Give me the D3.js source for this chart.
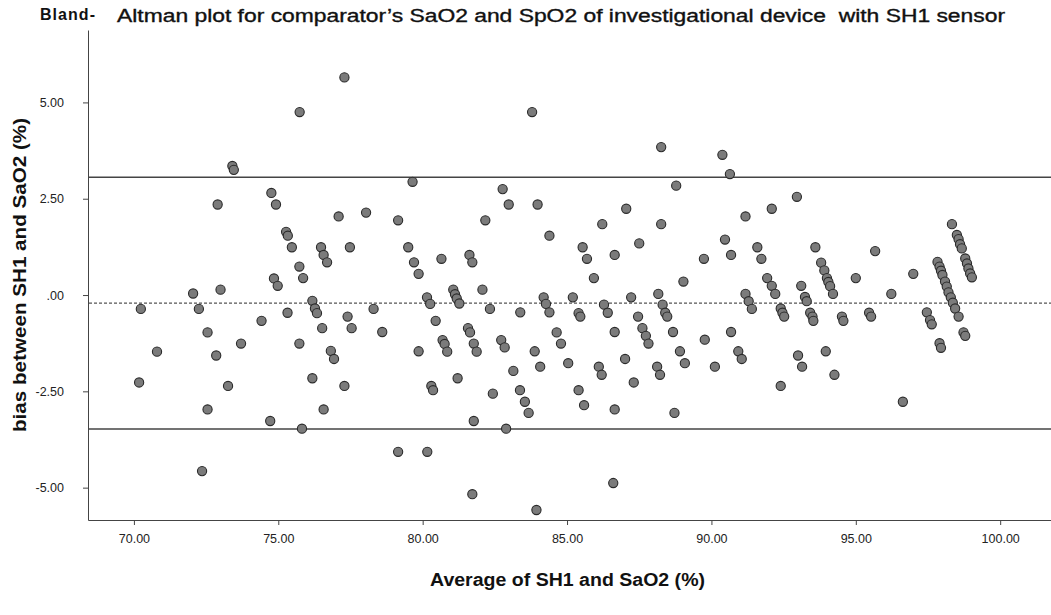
<!DOCTYPE html>
<html>
<head>
<meta charset="utf-8">
<script src="https://cdn.jsdelivr.net/npm/d3@7"></script>
<style>
  html, body { margin: 0; padding: 0; background: #fff; }
  svg { display: block; font-family: "Liberation Sans", Arial, sans-serif; }
</style>
</head>
<body>
<svg id="chart" width="1051" height="615"></svg>
<script>
// Average of SH1 and SaO2 (%) for each paired sample
const avgValues = [
  70.18, 70.24, 70.80, 72.05, 72.25, 72.36, 72.55, 72.55, 72.85, 72.90,
  73.00, 73.26, 73.41, 73.46, 73.71, 74.42, 74.72, 74.76, 74.85, 74.92,
  74.98, 75.27, 75.33, 75.32, 75.47, 75.74, 75.73, 75.73, 75.82, 75.86,
  76.18, 76.27, 76.34, 76.18, 76.48, 76.57, 76.69, 76.52, 76.57, 76.82,
  76.93, 77.09, 77.29, 77.29, 77.40, 77.48, 77.54, 78.04, 78.30, 78.60,
  79.15, 79.15, 79.50, 79.65, 79.70, 79.86, 79.86, 80.15, 80.26, 80.16,
  80.30, 80.36, 80.45, 80.65, 80.69, 80.76, 80.85, 81.06, 81.12, 81.18,
  81.27, 81.21, 81.57, 81.64, 81.62, 81.72, 81.72, 81.77, 81.87, 81.77,
  82.07, 82.17, 82.33, 82.43, 82.72, 82.84, 82.77, 82.89, 82.98, 83.14,
  83.38, 83.37, 83.54, 83.67, 83.79, 83.88, 83.94, 83.98, 84.07, 84.19,
  84.27, 84.39, 84.39, 84.64, 84.79, 85.04, 85.20, 85.40, 85.46, 85.40,
  85.54, 85.59, 85.69, 85.93, 86.10, 86.20, 86.22, 86.28, 86.41, 86.60,
  86.65, 86.65, 86.65, 87.01, 87.05, 87.22, 87.31, 87.46, 87.50, 87.61,
  87.73, 87.82, 88.12, 88.22, 88.16, 88.26, 88.26, 88.31, 88.40, 88.47,
  88.67, 88.72, 88.78, 88.91, 89.03, 89.08, 89.74, 89.77, 90.12, 90.38,
  90.47, 90.64, 90.68, 90.68, 90.93, 91.05, 91.18, 91.18, 91.29, 91.40,
  91.59, 91.73, 91.93, 92.09, 92.21, 92.09, 92.40, 92.46, 92.52, 92.40,
  92.96, 93.00, 93.11, 93.14, 93.24, 93.30, 93.42, 93.50, 93.53, 93.60,
  93.80, 93.91, 94.00, 94.05, 94.11, 94.21, 93.96, 94.26, 94.52, 94.57,
  95.00, 95.46, 95.53, 95.67, 96.23, 96.63, 96.99, 97.46, 97.57, 97.63,
  97.83, 97.90, 97.95, 98.00, 98.09, 98.15, 98.21, 98.29, 98.36, 98.44,
  98.56, 97.90, 97.95, 98.33, 98.50, 98.56, 98.61, 98.67, 98.79, 98.85,
  98.90, 98.96, 99.02, 98.73, 98.79
];

// Bias between SH1 and SaO2 (%) for the same samples
const biasValues = [
  -2.27, -0.36, -1.47,  0.04, -0.36, -4.57, -0.97, -2.97, -1.57,  2.35,
   0.14, -2.36,  3.35,  3.25, -1.26, -0.67, -3.27,  2.65,  0.43,  2.35,
   0.24,  1.64,  1.54, -0.46,  1.24,  4.75,  0.74, -1.26, -3.47,  0.44,
  -0.15, -0.35, -0.47, -2.16,  1.24,  1.04,  0.85, -0.86, -2.97, -1.45,
  -1.66,  2.04,  5.65, -2.36, -0.56,  1.24, -0.86,  2.14, -0.36, -0.96,
   1.94, -4.07,  1.24,  2.94,  0.85,  0.55, -1.46, -0.06, -0.23, -4.07,
  -2.36, -2.47, -0.67,  0.94, -1.17, -1.27, -1.47,  0.14,  0.02, -0.09,
  -0.22, -2.16, -0.86, -0.97,  1.04,  0.85, -5.17, -1.26, -1.47, -3.27,
   0.14,  1.94, -0.36, -2.56, -1.17, -1.36,  2.75, -3.47,  2.35, -1.97,
  -0.45, -2.47, -2.77, -3.06,  4.75, -1.46, -5.58,  2.35, -1.86, -0.06,
  -0.23, -0.45,  1.54, -0.97, -1.26, -1.77, -0.06, -0.47, -0.56, -2.47,
   1.24, -2.86,  0.94,  0.44, -1.86, -2.07,  1.84, -0.25, -0.46, -4.88,
   1.04, -0.96, -2.97, -1.66,  2.24, -0.06, -2.27, -0.56,  1.34, -0.86,
  -1.06, -1.26, -1.86, -2.07,  0.03,  3.84,  1.84, -0.25, -0.46, -0.56,
  -0.96, -3.06,  2.84, -1.46,  0.35, -1.77,  0.94, -1.16, -1.86,  3.64,
   1.44,  3.14,  1.04, -0.96, -1.46, -1.66,  2.04,  0.03, -0.16, -0.36,
   1.24,  0.94,  0.44,  0.24,  0.03,  2.24, -0.35, -0.46, -0.56, -2.36,
   2.55, -1.57,  0.24, -1.86, -0.05, -0.16, -0.46, -0.56, -0.67,  1.24,
   0.84,  0.64,  0.44,  0.34,  0.23,  0.03, -1.46, -2.07, -0.56, -0.67,
   0.44, -0.46, -0.56,  1.14,  0.03, -2.77,  0.55, -0.45, -0.65, -0.76,
   0.86,  0.74,  0.63,  0.52,  0.35,  0.22,  0.07, -0.06, -0.20, -0.35,
  -0.56, -1.25, -1.37,  1.84,  1.56,  1.45,  1.32,  1.21,  0.95,  0.82,
   0.69,  0.56,  0.46, -0.97, -1.06
];

// Mean bias and 95% limits of agreement
const meanBias = -0.21;
const limitsOfAgreement = [3.06, -3.48];

// Axis ticks and their printed labels
const xTicks = [70, 75, 80, 85, 90, 95, 100];
const xTickLabels = ["70.00", "75.00", "80.00", "85.00", "90.00", "95.00", "100.00"];
const yTicks = [-5, -2.5, 0, 2.5, 5];
const yTickLabels = ["-5.00", "-2.50", ".00", "2.50", "5.00"];

const svg = d3.select("#chart");

// Plot frame
const frame = { left: 88, right: 1051, top: 30, bottom: 520 };

const x = d3.scaleLinear().domain([68.41, 101.76]).range([frame.left, frame.right]);
const y = d3.scaleLinear().domain([-5.84, 6.88]).range([frame.bottom, frame.top]);

const textColor = "#222";

// Axes
const xAxis = d3.axisBottom(x)
  .tickValues(xTicks)
  .tickFormat((d, i) => xTickLabels[i])
  .tickSize(5)
  .tickSizeOuter(0);
const yAxis = d3.axisLeft(y)
  .tickValues(yTicks)
  .tickFormat((d, i) => yTickLabels[i])
  .tickSize(5)
  .tickSizeOuter(0);

const gx = svg.append("g")
  .attr("transform", `translate(0,${frame.bottom})`)
  .call(xAxis);
gx.select(".domain").attr("stroke", "#444").attr("stroke-width", 1);
gx.selectAll(".tick line").attr("stroke", "#444");
gx.selectAll(".tick text")
  .attr("font-size", 12.5)
  .attr("fill", textColor)
  .attr("dy", "1.2em");

const gy = svg.append("g")
  .attr("transform", `translate(${frame.left},0)`)
  .call(yAxis);
gy.select(".domain").attr("stroke", "#444").attr("stroke-width", 1);
gy.selectAll(".tick line").attr("stroke", "#444");
gy.selectAll(".tick text")
  .attr("font-size", 12.5)
  .attr("fill", textColor)
  .attr("dx", "-16");

// Reference lines
const refG = svg.append("g");
refG.selectAll("line.loa")
  .data(limitsOfAgreement)
  .join("line")
  .attr("class", "loa")
  .attr("x1", frame.left + 1).attr("x2", frame.right)
  .attr("y1", d => y(d)).attr("y2", d => y(d))
  .attr("stroke", "#444")
  .attr("stroke-width", 1.5);

refG.append("line")
  .attr("x1", frame.left + 1).attr("x2", frame.right)
  .attr("y1", y(meanBias)).attr("y2", y(meanBias))
  .attr("stroke", "#555")
  .attr("stroke-width", 1.3)
  .attr("stroke-dasharray", "3,2");

// Points
const points = avgValues.map((v, i) => ({ avg: v, bias: biasValues[i] }));
svg.append("g")
  .selectAll("circle")
  .data(points)
  .join("circle")
  .attr("cx", d => x(d.avg))
  .attr("cy", d => y(d.bias))
  .attr("r", 4.6)
  .attr("fill", "#7b7b7b")
  .attr("stroke", "#2a2a2a")
  .attr("stroke-width", 1.1);

// Titles
svg.append("text")
  .attr("x", 40).attr("y", 20)
  .attr("font-size", 16)
  .attr("font-weight", "bold")
  .attr("fill", "#111")
  .attr("textLength", 55)
  .text("Bland-");

svg.append("text")
  .attr("x", 117).attr("y", 22)
  .attr("font-size", 17.5)
  .attr("font-weight", "normal")
  .attr("fill", "#111")
  .attr("stroke", "#111")
  .attr("stroke-width", 0.35)
  .attr("textLength", 888)
  .attr("lengthAdjust", "spacingAndGlyphs")
  .style("white-space", "pre")
  .text("Altman plot for comparator\u2019s SaO2 and SpO2 of investigational device  with SH1 sensor");

svg.append("text")
  .attr("x", 430)
  .attr("y", 586)
  .attr("font-size", 18)
  .attr("font-weight", "bold")
  .attr("fill", "#111")
  .attr("textLength", 275)
  .attr("lengthAdjust", "spacingAndGlyphs")
  .text("Average of SH1 and SaO2 (%)");

svg.append("text")
  .attr("transform", "translate(26,432) rotate(-90)")
  .attr("font-size", 18)
  .attr("font-weight", "bold")
  .attr("fill", "#111")
  .attr("textLength", 314)
  .attr("lengthAdjust", "spacingAndGlyphs")
  .text("bias between SH1 and SaO2 (%)");
</script>
</body>
</html>
